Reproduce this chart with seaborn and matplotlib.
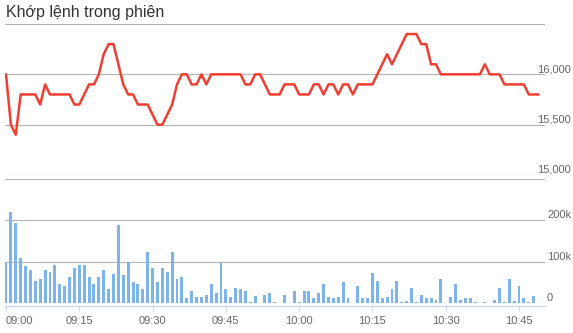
import numpy as np
import pandas as pd
import matplotlib
matplotlib.use("Agg")
import matplotlib.pyplot as plt
import seaborn as sns

# ---------------- data ----------------
title = "Khớp lệnh trong phiên"
tick_labels = ["09:00", "09:15", "09:30", "09:45", "10:00", "10:15", "10:30", "10:45"]

# price per minute starting 09:00
price = [16000, 15500, 15400, 15800, 15800, 15800, 15800, 15700, 15900, 15800,
         15800, 15800, 15800, 15800, 15700, 15700, 15800, 15900, 15900, 16000,
         16200, 16300, 16300, 16100, 15900, 15800, 15800, 15700, 15700, 15700,
         15600, 15500, 15500, 15600, 15700, 15900, 16000, 16000, 15900, 15900,
         16000, 15900, 16000, 16000, 16000, 16000, 16000, 16000, 16000, 15900,
         15900, 16000, 16000, 15900, 15800, 15800, 15800, 15900, 15900, 15900,
         15800, 15800, 15800, 15900, 15900, 15800, 15900, 15900, 15800, 15900,
         15900, 15800, 15900, 15900, 15900, 15900, 16000, 16100, 16200, 16100,
         16200, 16300, 16400, 16400, 16400, 16300, 16300, 16100, 16100, 16000,
         16000, 16000, 16000, 16000, 16000, 16000, 16000, 16000, 16100, 16000,
         16000, 16000, 15900, 15900, 15900, 15900, 15900, 15800, 15800, 15800]

# volume per minute (thousands) starting 09:00
volume_k = [100, 220, 193, 108, 89, 81, 54, 59, 79, 74,
            93, 47, 42, 64, 84, 91, 91, 62, 45, 64,
            79, 33, 69, 189, 67, 100, 50, 45, 35, 123,
            84, 52, 84, 76, 123, 57, 64, 13, 28, 15,
            15, 20, 47, 25, 96, 33, 15, 37, 33, 28,
            3, 18, 0, 20, 25, 3, 0, 20, 0, 30,
            3, 28, 28, 11, 23, 47, 15, 11, 15, 50,
            11, 0, 40, 13, 13, 72, 54, 13, 15, 33,
            54, 3, 6, 37, 3, 20, 13, 11, 8, 59,
            0, 15, 47, 8, 11, 11, 3, 0, 3, 0,
            8, 37, 3, 59, 6, 40, 11, 3, 18]

price_ticks = [15000, 15500, 16000, 16500]
price_tick_labels = ["15,000", "15,500", "16,000", ""]
vol_ticks = [0, 100000, 200000, 300000]
vol_tick_labels = ["0", "100k", "200k", ""]

# ---------------- styling ----------------
sns.set_style("white")
plt.rcParams["font.family"] = ["Liberation Sans", "DejaVu Sans"]

W, H = 573, 333
fig = plt.figure(figsize=(W / 100, H / 100), dpi=100)


def rect(x0, y0, x1, y1):
    return [x0 / W, 1 - y1 / H, (x1 - x0) / W, (y1 - y0) / H]


ax1 = fig.add_axes(rect(5, 24, 545, 175))
ax2 = fig.add_axes(rect(5, 179, 545, 303))

df_p = pd.DataFrame({"minute": np.arange(len(price)), "price": price})
df_v = pd.DataFrame({"minute": np.arange(len(volume_k)),
                     "volume": np.array(volume_k) * 1000})

grid_c = "#b4b4b4"
line_c = "#f23d31"
bar_c = "#7cb5ec"
axis_c = "#ccd6eb"
label_c = "#666666"

sns.lineplot(data=df_p, x="minute", y="price", ax=ax1, color=line_c,
             linewidth=1.8, zorder=3)
sns.barplot(data=df_v, x="minute", y="volume", ax=ax2, native_scale=True,
            width=0.6, color=bar_c, saturation=1, errorbar=None, linewidth=0,
            zorder=3)

tick_pos = [int(t[:2]) * 60 + int(t[3:]) - 9 * 60 for t in tick_labels]
xl = ((5 - 6) / 4.886, (545 - 6) / 4.886)

for ax in (ax1, ax2):
    ax.set_xlim(*xl)
    ax.set_xlabel("")
    ax.set_ylabel("")
    for s in ax.spines.values():
        s.set_visible(False)
    ax.yaxis.tick_right()
    ax.grid(axis="y", color=grid_c, linewidth=0.8)
    ax.grid(axis="x", visible=False)
    ax.set_axisbelow(True)

ax1.set_ylim(15000, 16500)
ax1.set_yticks(price_ticks)
ax1.set_yticklabels(price_tick_labels)
ax1.tick_params(axis="y", length=0, pad=-5.8, labelsize=8, labelcolor=label_c)
ax1.set_xticks([])
for t in ax1.get_yticklabels():
    t.set_verticalalignment("bottom")

ax2.set_ylim(0, 300000)
ax2.set_yticks(vol_ticks)
ax2.set_yticklabels(vol_tick_labels)
ax2.tick_params(axis="y", length=0, pad=1.4, labelsize=8, labelcolor=label_c)
for t in ax2.get_yticklabels():
    t.set_verticalalignment("bottom")

ax2.spines["bottom"].set_visible(True)
ax2.spines["bottom"].set_color(axis_c)
ax2.spines["bottom"].set_linewidth(1.0)
ax2.spines["bottom"].set_position(("outward", 2.4))
ax2.set_xticks(tick_pos)
ax2.set_xticklabels(tick_labels)
ax2.tick_params(axis="x", length=3.6, width=0.8, color=axis_c, labelsize=8,
                labelcolor=label_c, pad=3, bottom=True)
ax2.get_xticklabels()[0].set_horizontalalignment("left")

fig.text(6 / W, 1 - 17.5 / H, title, fontsize=11.5, color="#333333",
         va="baseline", ha="left")

fig.savefig("out.png", dpi=100)
